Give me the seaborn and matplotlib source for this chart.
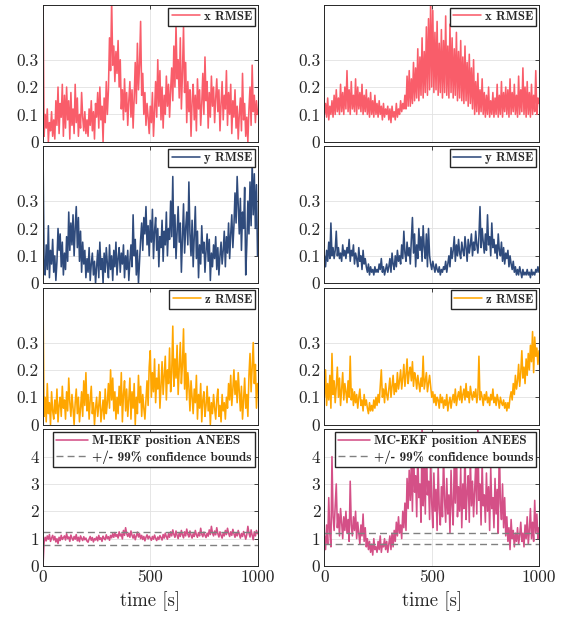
import numpy as np
import matplotlib
matplotlib.use("Agg")
import matplotlib.pyplot as plt
import seaborn as sns
from matplotlib.font_manager import FontProperties

sns.set_style("white")
plt.rcParams['font.family'] = ['cmr10', 'DejaVu Serif']
plt.rcParams['axes.formatter.use_mathtext'] = True

# time stamps (5 s sampling)
t = np.arange(0, 1001, 5)

# ---- M-IEKF (left column) ----
xl = [0.55, 0.02, 0.10, 0.05, 0.12, 0.00, 0.07, 0.04, 0.11, 0.02,
      0.08, 0.01, 0.15, 0.06, 0.20, 0.03, 0.14, 0.09, 0.21, 0.02,
      0.17, 0.05, 0.20, 0.08, 0.15, 0.01, 0.18, 0.06, 0.12, 0.03,
      0.21, 0.07, 0.16, 0.02, 0.10, 0.05, 0.18, 0.09, 0.04, 0.11,
      0.03, 0.08, 0.02, 0.12, 0.06, 0.15, 0.04, 0.11, 0.01, 0.14,
      0.09, 0.18, 0.05, 0.20, 0.08, 0.13, 0.00, 0.16, 0.07, 0.22,
      0.10, 0.19, 0.38, 0.26, 0.52, 0.28, 0.35, 0.22, 0.33, 0.25,
      0.37, 0.20, 0.30, 0.12, 0.19, 0.08, 0.23, 0.11, 0.18, 0.06,
      0.15, 0.22, 0.09, 0.19, 0.05, 0.16, 0.29, 0.14, 0.36, 0.19,
      0.28, 0.44, 0.17, 0.25, 0.10, 0.18, 0.06, 0.14, 0.09, 0.03,
      0.13, 0.07, 0.18, 0.02, 0.11, 0.22, 0.09, 0.30, 0.13, 0.26,
      0.08, 0.20, 0.05, 0.17, 0.10, 0.24, 0.13, 0.21, 0.09, 0.19,
      0.27, 0.15, 0.35, 0.20, 0.43, 0.23, 0.30, 0.16, 0.38, 0.12,
      0.25, 0.42, 0.18, 0.29, 0.07, 0.22, 0.11, 0.19, 0.02, 0.15,
      0.21, 0.08, 0.17, 0.04, 0.23, 0.12, 0.19, 0.06, 0.14, 0.25,
      0.10, 0.31, 0.15, 0.22, 0.05, 0.18, 0.09, 0.24, 0.13, 0.20,
      0.07, 0.16, 0.23, 0.11, 0.19, 0.04, 0.14, 0.22, 0.08, 0.17,
      0.12, 0.26, 0.06, 0.18, 0.10, 0.21, 0.03, 0.15, 0.09, 0.19,
      0.05, 0.13, 0.01, 0.10, 0.16, 0.04, 0.25, 0.08, 0.14, 0.02,
      0.09, 0.00, 0.12, 0.20, 0.06, 0.28, 0.11, 0.17, 0.07, 0.15,
      0.10]

yl = [0.50, 0.08, 0.03, 0.14, 0.05, 0.21, 0.02, 0.12, 0.07, 0.16,
      0.04, 0.10, 0.01, 0.08, 0.20, 0.12, 0.18, 0.06, 0.15, 0.03,
      0.11, 0.05, 0.17, 0.08, 0.26, 0.12, 0.22, 0.14, 0.25, 0.10,
      0.20, 0.28, 0.13, 0.24, 0.08, 0.19, 0.04, 0.15, 0.07, 0.12,
      0.02, 0.09, 0.04, 0.13, 0.01, 0.07, 0.11, 0.03, 0.08, 0.00,
      0.06, 0.12, 0.02, 0.15, 0.05, 0.09, 0.00, 0.11, 0.04, 0.13,
      0.07, 0.02, 0.14, 0.05, 0.10, 0.01, 0.12, 0.06, 0.15, 0.03,
      0.09, 0.13, 0.04, 0.11, 0.07, 0.14, 0.02, 0.10, 0.05, 0.12,
      0.01, 0.08, 0.14, 0.06, 0.25, 0.10, 0.16, 0.03, 0.12, 0.00,
      0.08, 0.16, 0.22, 0.12, 0.24, 0.18, 0.28, 0.14, 0.21, 0.10,
      0.23, 0.15, 0.27, 0.09, 0.19, 0.24, 0.12, 0.20, 0.06, 0.17,
      0.13, 0.23, 0.08, 0.19, 0.14, 0.26, 0.10, 0.20, 0.16, 0.30,
      0.17, 0.39, 0.13, 0.25, 0.09, 0.19, 0.28, 0.15, 0.22, 0.04,
      0.16, 0.29, 0.11, 0.20, 0.26, 0.14, 0.37, 0.18, 0.10, 0.23,
      0.06, 0.17, 0.28, 0.09, 0.19, 0.02, 0.14, 0.07, 0.21, 0.11,
      0.15, 0.04, 0.12, 0.18, 0.08, 0.16, 0.01, 0.11, 0.06, 0.14,
      0.09, 0.17, 0.05, 0.13, 0.03, 0.10, 0.15, 0.07, 0.12, 0.19,
      0.06, 0.17, 0.11, 0.22, 0.09, 0.18, 0.25, 0.13, 0.21, 0.33,
      0.22, 0.39, 0.28, 0.18, 0.31, 0.12, 0.26, 0.20, 0.35, 0.03,
      0.14, 0.30, 0.18, 0.37, 0.21, 0.44, 0.25, 0.40, 0.20, 0.36,
      0.10]

zl = [0.48, 0.03, 0.10, 0.01, 0.15, 0.04, 0.08, 0.00, 0.12, 0.05,
      0.02, 0.09, 0.04, 0.13, 0.01, 0.07, 0.10, 0.03, 0.14, 0.06,
      0.09, 0.02, 0.12, 0.05, 0.17, 0.08, 0.03, 0.11, 0.06, 0.00,
      0.08, 0.13, 0.04, 0.10, 0.01, 0.06, 0.12, 0.03, 0.16, 0.07,
      0.19, 0.05, 0.11, 0.02, 0.09, 0.14, 0.04, 0.08, 0.00, 0.06,
      0.10, 0.03, 0.07, 0.12, 0.01, 0.05, 0.09, 0.02, 0.13, 0.04,
      0.08, 0.15, 0.06, 0.20, 0.09, 0.17, 0.05, 0.12, 0.02, 0.10,
      0.04, 0.14, 0.07, 0.19, 0.01, 0.11, 0.16, 0.05, 0.13, 0.03,
      0.09, 0.17, 0.02, 0.12, 0.06, 0.15, 0.00, 0.10, 0.04, 0.18,
      0.08, 0.14, 0.03, 0.11, 0.06, 0.02, 0.09, 0.16, 0.07, 0.21,
      0.27, 0.10, 0.19, 0.12, 0.24, 0.08, 0.17, 0.13, 0.22, 0.06,
      0.14, 0.23, 0.11, 0.18, 0.25, 0.09, 0.20, 0.15, 0.28, 0.12,
      0.19, 0.36, 0.14, 0.24, 0.17, 0.29, 0.11, 0.21, 0.30, 0.15,
      0.22, 0.35, 0.13, 0.26, 0.09, 0.19, 0.14, 0.05, 0.16, 0.10,
      0.04, 0.13, 0.08, 0.18, 0.02, 0.11, 0.06, 0.15, 0.01, 0.09,
      0.12, 0.03, 0.07, 0.14, 0.05, 0.10, 0.00, 0.08, 0.04, 0.11,
      0.06, 0.02, 0.09, 0.13, 0.03, 0.07, 0.01, 0.11, 0.05, 0.08,
      0.02, 0.10, 0.06, 0.15, 0.09, 0.18, 0.07, 0.13, 0.20, 0.11,
      0.16, 0.08, 0.19, 0.12, 0.05, 0.14, 0.02, 0.09, 0.17, 0.06,
      0.11, 0.03, 0.18, 0.26, 0.12, 0.21, 0.30, 0.15, 0.22, 0.06,
      0.15]

al = [0.00, 0.85, 1.05, 0.92, 1.10, 0.98, 1.15, 0.90, 1.02, 1.12,
      0.95, 1.08, 0.88, 1.00, 0.82, 1.05, 0.93, 1.12, 0.97, 1.03,
      1.10, 0.95, 1.18, 1.00, 1.06, 0.90, 1.13, 1.02, 0.94, 1.08,
      0.98, 1.15, 0.92, 1.05, 0.89, 1.10, 1.00, 0.93, 1.07, 0.96,
      1.02, 0.91, 0.87, 0.99, 1.08, 0.94, 1.04, 0.88, 1.00, 0.95,
      1.06, 0.92, 1.12, 0.97, 1.03, 0.90, 1.09, 1.01, 0.96, 1.14,
      1.00, 1.07, 0.94, 1.12, 1.03, 1.18, 1.05, 1.22, 1.08, 1.15,
      1.02, 1.25, 1.10, 1.17, 0.99, 1.30, 1.12, 1.40, 1.18, 1.08,
      1.20, 1.05, 1.28, 1.12, 1.02, 1.15, 0.96, 1.10, 1.24, 1.06,
      1.18, 1.00, 1.12, 0.97, 1.08, 0.92, 1.05, 1.14, 0.99, 1.09,
      1.02, 0.94, 1.08, 0.98, 1.13, 1.01, 0.93, 1.06, 0.97, 1.11,
      1.04, 0.95, 1.15, 1.02, 1.20, 1.07, 0.98, 1.18, 1.05, 1.25,
      1.10, 1.32, 1.15, 1.05, 1.28, 1.12, 1.00, 1.22, 1.08, 1.30,
      1.14, 1.03, 1.25, 1.10, 1.35, 1.16, 1.06, 1.28, 1.12, 1.02,
      1.18, 1.08, 1.30, 1.14, 1.05, 1.22, 1.10, 1.38, 1.16, 1.07,
      1.24, 1.12, 1.04, 1.20, 1.09, 1.32, 1.15, 1.45, 1.20, 1.10,
      1.28, 1.14, 1.40, 1.18, 1.06, 1.25, 1.12, 1.02, 1.20, 1.10,
      1.30, 1.15, 1.38, 1.20, 1.08, 1.25, 1.12, 1.34, 1.18, 1.05,
      1.22, 1.10, 1.30, 1.16, 1.02, 1.19, 1.08, 1.26, 1.13, 0.98,
      1.15, 1.45, 1.20, 1.06, 1.32, 1.12, 0.96, 1.25, 1.10, 1.30,
      1.18]

# ---- MC-EKF (right column) ----
xr = [0.10, 0.14, 0.09, 0.16, 0.08, 0.13, 0.10, 0.15, 0.09, 0.17,
      0.10, 0.19, 0.11, 0.16, 0.10, 0.21, 0.11, 0.18, 0.10, 0.20,
      0.12, 0.26, 0.11, 0.19, 0.10, 0.22, 0.12, 0.17, 0.11, 0.23,
      0.10, 0.20, 0.12, 0.18, 0.11, 0.21, 0.10, 0.17, 0.11, 0.19,
      0.10, 0.16, 0.09, 0.18, 0.10, 0.15, 0.09, 0.17, 0.10, 0.14,
      0.09, 0.15, 0.10, 0.13, 0.08, 0.14, 0.09, 0.12, 0.10, 0.13,
      0.08, 0.12, 0.07, 0.13, 0.09, 0.11, 0.08, 0.14, 0.09, 0.12,
      0.10, 0.15, 0.11, 0.14, 0.12, 0.17, 0.12, 0.24, 0.13, 0.26,
      0.13, 0.23, 0.14, 0.29, 0.15, 0.27, 0.16, 0.34, 0.15, 0.31,
      0.17, 0.38, 0.16, 0.33, 0.18, 0.42, 0.17, 0.45, 0.19, 0.52,
      0.20, 0.48, 0.18, 0.40, 0.19, 0.44, 0.17, 0.36, 0.18, 0.41,
      0.16, 0.37, 0.18, 0.46, 0.17, 0.35, 0.16, 0.43, 0.18, 0.38,
      0.16, 0.34, 0.17, 0.40, 0.15, 0.33, 0.16, 0.37, 0.15, 0.31,
      0.14, 0.35, 0.15, 0.29, 0.13, 0.32, 0.14, 0.27, 0.12, 0.30,
      0.10, 0.22, 0.11, 0.25, 0.10, 0.19, 0.11, 0.23, 0.10, 0.18,
      0.09, 0.17, 0.10, 0.20, 0.09, 0.15, 0.10, 0.18, 0.09, 0.16,
      0.10, 0.21, 0.09, 0.17, 0.10, 0.22, 0.09, 0.18, 0.11, 0.20,
      0.10, 0.19, 0.09, 0.23, 0.10, 0.18, 0.11, 0.21, 0.10, 0.17,
      0.09, 0.24, 0.10, 0.19, 0.11, 0.27, 0.10, 0.20, 0.09, 0.22,
      0.10, 0.18, 0.09, 0.21, 0.10, 0.17, 0.11, 0.26, 0.10, 0.16,
      0.14]

yr = [0.10, 0.06, 0.12, 0.08, 0.15, 0.09, 0.22, 0.10, 0.13, 0.09,
      0.12, 0.19, 0.10, 0.13, 0.09, 0.11, 0.08, 0.14, 0.10, 0.12,
      0.09, 0.13, 0.11, 0.16, 0.08, 0.12, 0.10, 0.14, 0.07, 0.11,
      0.09, 0.06, 0.13, 0.08, 0.10, 0.05, 0.12, 0.07, 0.09, 0.06,
      0.04, 0.07, 0.03, 0.06, 0.04, 0.05, 0.03, 0.06, 0.04, 0.05,
      0.04, 0.07, 0.05, 0.09, 0.04, 0.06, 0.03, 0.05, 0.07, 0.04,
      0.06, 0.09, 0.04, 0.11, 0.07, 0.05, 0.10, 0.06, 0.12, 0.08,
      0.10, 0.07, 0.14, 0.09, 0.19, 0.11, 0.08, 0.15, 0.10, 0.13,
      0.07, 0.16, 0.24, 0.11, 0.18, 0.06, 0.14, 0.09, 0.20, 0.12,
      0.17, 0.08, 0.21, 0.13, 0.09, 0.18, 0.06, 0.20, 0.10, 0.07,
      0.05, 0.08, 0.06, 0.04, 0.07, 0.05, 0.04, 0.06, 0.03, 0.05,
      0.04, 0.06, 0.05, 0.08, 0.04, 0.07, 0.10, 0.06, 0.13, 0.09,
      0.12, 0.17, 0.08, 0.14, 0.10, 0.16, 0.11, 0.09, 0.15, 0.12,
      0.10, 0.17, 0.13, 0.08, 0.16, 0.11, 0.14, 0.18, 0.10, 0.15,
      0.12, 0.19, 0.14, 0.11, 0.17, 0.28, 0.13, 0.20, 0.15, 0.11,
      0.18, 0.12, 0.25, 0.14, 0.17, 0.10, 0.22, 0.13, 0.16, 0.11,
      0.14, 0.09, 0.18, 0.12, 0.10, 0.15, 0.08, 0.13, 0.07, 0.11,
      0.09, 0.12, 0.06, 0.10, 0.07, 0.05, 0.08, 0.04, 0.06, 0.03,
      0.05, 0.03, 0.06, 0.04, 0.02, 0.05, 0.03, 0.04, 0.03, 0.05,
      0.03, 0.04, 0.02, 0.05, 0.03, 0.04, 0.03, 0.05, 0.04, 0.06,
      0.04]

zr = [0.10, 0.20, 0.07, 0.15, 0.09, 0.18, 0.06, 0.26, 0.11, 0.16,
      0.08, 0.14, 0.21, 0.10, 0.17, 0.07, 0.13, 0.19, 0.09, 0.15,
      0.12, 0.08, 0.16, 0.10, 0.25, 0.09, 0.13, 0.07, 0.12, 0.08,
      0.11, 0.06, 0.10, 0.13, 0.07, 0.09, 0.05, 0.11, 0.07, 0.09,
      0.06, 0.04, 0.08, 0.05, 0.07, 0.05, 0.09, 0.06, 0.10, 0.07,
      0.11, 0.08, 0.14, 0.20, 0.10, 0.13, 0.08, 0.15, 0.11, 0.09,
      0.13, 0.17, 0.10, 0.14, 0.18, 0.11, 0.15, 0.12, 0.19, 0.13,
      0.16, 0.20, 0.13, 0.17, 0.22, 0.14, 0.18, 0.24, 0.15, 0.19,
      0.21, 0.16, 0.23, 0.14, 0.19, 0.17, 0.13, 0.18, 0.15, 0.12,
      0.17, 0.14, 0.25, 0.13, 0.16, 0.19, 0.12, 0.15, 0.18, 0.14,
      0.10, 0.12, 0.08, 0.11, 0.07, 0.10, 0.09, 0.06, 0.11, 0.08,
      0.10, 0.06, 0.09, 0.07, 0.11, 0.05, 0.08, 0.10, 0.06, 0.09,
      0.11, 0.08, 0.13, 0.07, 0.10, 0.12, 0.09, 0.14, 0.08, 0.11,
      0.13, 0.09, 0.15, 0.10, 0.12, 0.08, 0.14, 0.11, 0.09, 0.12,
      0.10, 0.13, 0.08, 0.11, 0.25, 0.09, 0.12, 0.10, 0.07, 0.11,
      0.09, 0.12, 0.08, 0.10, 0.07, 0.11, 0.09, 0.13, 0.08, 0.10,
      0.07, 0.11, 0.09, 0.06, 0.10, 0.08, 0.07, 0.09, 0.06, 0.08,
      0.05, 0.08, 0.06, 0.10, 0.12, 0.09, 0.15, 0.11, 0.18, 0.13,
      0.16, 0.22, 0.14, 0.19, 0.27, 0.17, 0.21, 0.15, 0.24, 0.18,
      0.26, 0.20, 0.29, 0.23, 0.34, 0.19, 0.32, 0.25, 0.28, 0.22,
      0.27]

ar = [1.10, 0.60, 1.50, 0.80, 2.50, 1.20, 0.70, 4.00, 1.80, 1.30,
      2.20, 3.00, 1.40, 1.90, 1.10, 2.10, 1.60, 1.00, 1.80, 1.30,
      2.00, 1.20, 1.70, 0.90, 3.10, 1.50, 1.10, 1.80, 1.30, 2.00,
      1.00, 1.60, 1.20, 0.80, 1.50, 1.10, 1.90, 0.90, 1.40, 0.70,
      1.00, 0.60, 0.90, 0.50, 0.80, 0.40, 1.00, 0.60, 0.70, 0.50,
      0.90, 0.60, 1.10, 0.50, 0.80, 0.70, 1.00, 0.60, 0.90, 0.50,
      0.80, 1.10, 0.60, 1.20, 0.70, 1.30, 0.90, 1.60, 1.10, 1.80,
      1.20, 1.50, 1.00, 2.00, 1.40, 2.30, 1.30, 3.20, 2.10, 3.50,
      2.40, 3.80, 2.00, 4.60, 2.70, 3.30, 1.80, 4.20, 2.50, 3.00,
      1.60, 5.20, 2.20, 3.60, 1.90, 4.80, 2.60, 3.10, 1.70, 4.00,
      2.30, 1.40, 3.40, 2.00, 2.80, 1.30, 3.70, 2.10, 1.50, 2.90,
      1.80, 4.10, 2.40, 1.60, 3.20, 1.90, 2.60, 1.20, 3.50, 2.20,
      1.50, 3.90, 2.30, 4.50, 1.80, 2.90, 2.00, 3.60, 1.40, 3.00,
      2.10, 4.30, 1.70, 2.70, 3.30, 1.60, 4.00, 2.20, 3.10, 1.80,
      2.80, 3.70, 1.90, 5.10, 2.40, 3.00, 1.50, 3.80, 2.20, 2.60,
      1.60, 3.40, 2.00, 2.90, 1.30, 3.60, 2.10, 2.50, 1.40, 3.20,
      1.90, 2.80, 1.20, 4.60, 2.30, 1.70, 3.00, 1.40, 2.50, 1.10,
      1.80, 0.90, 1.40, 0.60, 1.70, 1.00, 1.30, 0.70, 1.20, 0.90,
      1.40, 0.80, 1.10, 1.60, 0.90, 1.20, 0.70, 1.50, 1.00, 1.80,
      0.80, 1.30, 2.10, 1.00, 1.60, 0.90, 2.40, 1.20, 1.90, 1.00,
      1.40]

# 99% confidence bounds of the ANEES
bounds_l = [0.77, 1.26]
bounds_r = [0.80, 1.21]

rmse_ticks = [0, 0.1, 0.2, 0.3]
rmse_ticklabels = ['0', '0.1', '0.2', '0.3']
anees_ticks = [0, 1, 2, 3, 4]
anees_ticklabels = ['0', '1', '2', '3', '4']
time_ticks = [0, 500, 1000]
time_ticklabels = ['0', '500', '1000']

c_x, c_y, c_z, c_a = '#f95d6a', '#2f4b7c', '#ffa600', '#d45087'

fig, axes = plt.subplots(4, 2, figsize=(5.71, 6.18), dpi=100)
fig.subplots_adjust(left=43/571, right=539/571, top=1-5/618, bottom=1-566/618,
                    wspace=0.312, hspace=0.034)

leg_font = FontProperties(family=['cmb10', 'DejaVu Serif'], size=9.2)
leg_font_a = FontProperties(family=['cmb10', 'DejaVu Serif'], size=9.5)

cols = [(xl, yl, zl, al, 'M-IEKF position ANEES', bounds_l),
        (xr, yr, zr, ar, 'MC-EKF position ANEES', bounds_r)]

for j, (xs, ys, zs, an, alabel, bnd) in enumerate(cols):
    for i, (vals, col, lab) in enumerate([(xs, c_x, 'x RMSE'),
                                          (ys, c_y, 'y RMSE'),
                                          (zs, c_z, 'z RMSE')]):
        ax = axes[i, j]
        sns.lineplot(x=t, y=vals, ax=ax, color=col, lw=1.15, label=lab)
        ax.set_ylim(0, 0.5)
        ax.set_yticks(rmse_ticks)
        ax.set_yticklabels(rmse_ticklabels)
        ax.legend(loc='upper right', prop=leg_font, fancybox=False,
                  edgecolor='#262626', framealpha=1, borderaxespad=0.2,
                  handlelength=2.2, borderpad=0.25, handletextpad=0.3)
    ax = axes[3, j]
    sns.lineplot(x=t, y=an, ax=ax, color=c_a, lw=1.15, label=alabel)
    ax.axhline(bnd[0], color='#808080', lw=1.0, ls=(0, (5, 3)),
               label='+/- 99% confidence bounds')
    ax.axhline(bnd[1], color='#808080', lw=1.0, ls=(0, (5, 3)))
    ax.set_ylim(0, 5)
    ax.set_yticks(anees_ticks)
    ax.set_yticklabels(anees_ticklabels)
    ax.legend(loc='upper right', prop=leg_font_a, fancybox=False,
              edgecolor='#262626', framealpha=1, borderaxespad=0.2,
              handlelength=2.4, borderpad=0.25, handletextpad=0.3,
              labelspacing=0.2)
    ax.set_xlabel('time [s]', fontsize=13.5)

for ax in axes.flat:
    ax.set_xlim(0, 1000)
    ax.set_xticks(time_ticks)
    ax.set_ylabel('')
    ax.grid(True, color='#e2e2e2', lw=0.6)
    ax.set_axisbelow(True)
    ax.tick_params(direction='in', top=True, right=True, length=3,
                   width=0.6, colors='#262626', labelsize=12.5, pad=3)
    for s in ax.spines.values():
        s.set_visible(True)
        s.set_color('#262626')
        s.set_linewidth(0.7)
for ax in axes[:3].flat:
    ax.set_xticklabels([])
    ax.set_xlabel('')
for ax in axes[3]:
    ax.set_xticklabels(time_ticklabels)

fig.savefig('out.png', dpi=100)
